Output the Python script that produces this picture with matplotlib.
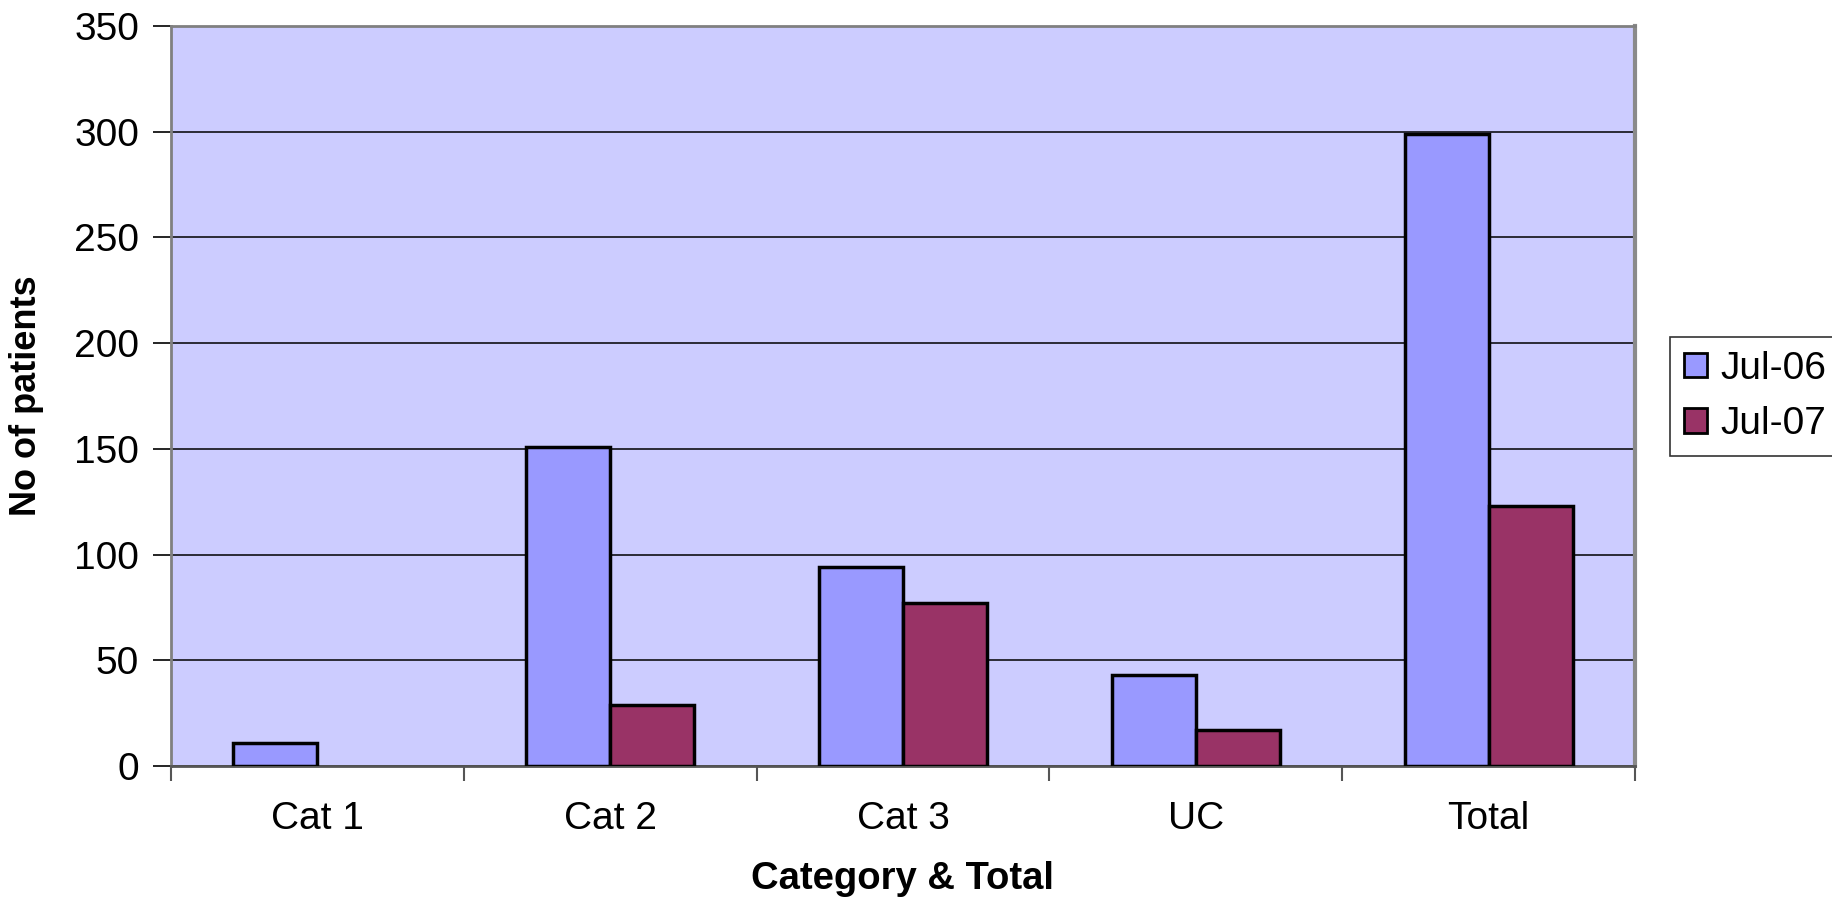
import numpy as np
import matplotlib
matplotlib.use("Agg")
import matplotlib.pyplot as plt
from matplotlib.patches import Patch

plt.rcParams['font.family'] = ['Liberation Sans', 'DejaVu Sans']

# data
categories = ["Cat 1", "Cat 2", "Cat 3", "UC", "Total"]
jul06 = [11, 151, 94, 43, 299]
jul07 = [0, 29, 77, 17, 123]
series_names = ["Jul-06", "Jul-07"]

c06 = "#9999FF"
c07 = "#993366"

fig = plt.figure(figsize=(18.33, 9.02), dpi=100)
ax = fig.add_axes([171/1833, 1-766/902, (1635-171)/1833, (766-26)/902])
ax.set_facecolor("#CCCCFF")

x = np.arange(len(categories))
w = 0.287
b1 = ax.bar(x - w/2, jul06, w, color=c06, edgecolor="black", linewidth=2.5, zorder=3)
b2 = ax.bar(x + w/2, jul07, w, color=c07, edgecolor="black", linewidth=2.5, zorder=3)
# empty bars draw nothing (Excel style)
for p in list(b1) + list(b2):
    if p.get_height() == 0:
        p.set_visible(False)

ax.set_xlim(-0.5, len(categories) - 0.5)
ax.set_ylim(0, 350)
ax.set_yticks(range(0, 351, 50))
ax.yaxis.grid(True, color="black", linewidth=1.1, zorder=1)
ax.set_axisbelow(True)

# category boundary ticks, labels in the middle
ax.set_xticks(np.arange(-0.5, len(categories), 1.0))
ax.set_xticklabels([])
ax.set_xticks(x, minor=True)
ax.set_xticklabels(categories, minor=True)
ax.tick_params(axis='x', which='major', length=11, width=1.5, color="#555555")
ax.tick_params(axis='x', which='minor', length=0, pad=25, labelsize=28)
ax.tick_params(axis='y', length=13, width=1.2, color="black", labelsize=28, pad=10)

for s in ["left", "top"]:
    ax.spines[s].set_color("#808080")
    ax.spines[s].set_linewidth(2)
ax.spines["right"].set_color("#8a8a8a")
ax.spines["right"].set_linewidth(3)
ax.spines["bottom"].set_color("#555555")
ax.spines["bottom"].set_linewidth(2)

ax.set_xlabel("Category & Total", fontsize=27.5, fontweight="bold")
ax.set_ylabel("No of patients", fontsize=26, fontweight="bold")
ax.xaxis.set_label_coords(0.5, -(879 - 766) / 740, transform=ax.transAxes)
ax.xaxis.label.set_va("center")
ax.yaxis.set_label_coords(-(171 - 26) / 1464, 0.5)
ax.yaxis.label.set_va("center")

handles = [Patch(facecolor=c06, edgecolor="black", linewidth=2),
           Patch(facecolor=c07, edgecolor="black", linewidth=2)]
leg = fig.legend(handles, series_names, loc="upper left",
                 bbox_to_anchor=(1670/1833, 1-337/902), fontsize=28,
                 frameon=True, fancybox=False, borderpad=0.35,
                 handlelength=0.6, handleheight=0.6, handletextpad=0.35,
                 labelspacing=0.5, borderaxespad=0)
leg.get_frame().set_edgecolor("black")
leg.get_frame().set_linewidth(1.2)

fig.savefig("out.png", dpi=100)
